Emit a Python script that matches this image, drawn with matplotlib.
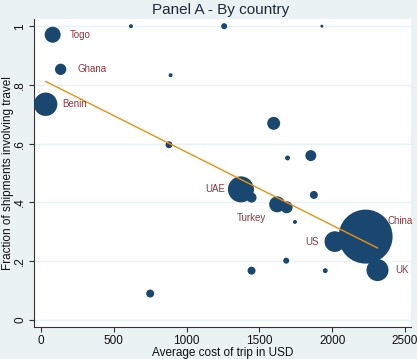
import matplotlib
matplotlib.use("Agg")
from matplotlib import pyplot as plt
import numpy as np

# average trip cost (USD), fraction of shipments involving travel, weight
cost = [80, 135, 32, 618, 890, 879, 1258, 1929, 1598, 1693, 1853, 750,
        1373, 1446, 1874, 1622, 1687, 1744, 2229, 2018, 2311, 1684, 1446, 1952]
frac = [0.971, 0.853, 0.734, 1.0, 0.833, 0.596, 1.0, 1.0, 0.669, 0.551, 0.559, 0.089,
        0.444, 0.416, 0.425, 0.393, 0.383, 0.333, 0.283, 0.266, 0.169, 0.201, 0.167, 0.167]
weight = [64, 32, 137, 4, 4, 12, 9, 2.25, 42, 6, 30, 16,
          169, 25, 16, 64, 36, 4, 729, 107, 121, 9, 16, 6]
country = ["Togo", "Ghana", "Benin", "", "", "", "", "", "", "", "", "",
           "UAE", "Turkey", "", "", "", "", "China", "US", "UK", "", "", ""]

fit_intercept = 0.8197
fit_slope = -0.000249

x_ticks = [0, 500, 1000, 1500, 2000, 2500]
y_ticks = [0, 0.2, 0.4, 0.6, 0.8, 1.0]
y_ticklabels = ["0", ".2", ".4", ".6", ".8", "1"]

# label offsets in points (dx, dy, ha, va)
label_pos = {
    "Togo": (12.5, 0, "left", "center"),
    "Ghana": (12, 0, "left", "center"),
    "Benin": (12, 0, "left", "center"),
    "UAE": (-11.5, 0, "right", "center"),
    "Turkey": (0, -14.5, "center", "center"),
    "China": (16, 11, "left", "center"),
    "US": (-11.5, 0, "right", "center"),
    "UK": (12.5, 0, "left", "center"),
}

plt.rcParams['font.family'] = ['Liberation Sans', 'DejaVu Sans']

bg = "#EAF2F3"
navy = "#1A476F"
label_col = "#90353B"

fig = plt.figure(figsize=[4.17, 3.59], dpi=100, facecolor=bg)
ax = fig.add_axes([34 / 417, 32 / 359, 377 / 417, 308 / 359])
ax.set_facecolor("white")

ax.set_xlim(-48, 2541)
ax.set_ylim(-0.025, 1.0245)

for yt in y_ticks:
    ax.axhline(yt, color=bg, lw=1.0, zorder=1)

sizes = [w * (0.72 * 2) ** 2 for w in weight]
ax.scatter(cost, frac, s=sizes, color=navy, edgecolors="none", zorder=3)

xs = np.array([min(cost), max(cost)])
ax.plot(xs, fit_intercept + fit_slope * xs, color="#F0900F", lw=1.0, zorder=4)

for c, x, y in zip(country, cost, frac):
    if c:
        dx, dy, ha, va = label_pos[c]
        ax.annotate(c, (x, y), xytext=(dx, dy), textcoords="offset points",
                    ha=ha, va=va, fontsize=7, color=label_col, zorder=5)

ax.set_xticks(x_ticks)
ax.set_yticks(y_ticks)
ax.set_yticklabels(y_ticklabels, rotation=90, va="center")
ax.tick_params(axis="both", labelsize=8.5, length=3.5, width=0.8,
               color="#333333", labelcolor="#111111", pad=2)

for side in ["top", "right"]:
    ax.spines[side].set_visible(False)
for side in ["left", "bottom"]:
    ax.spines[side].set_color("#333333")
    ax.spines[side].set_linewidth(0.8)

ax.set_xlabel("Average cost of trip in USD", fontsize=8.5, labelpad=0, color="#111111")
ax.set_ylabel("Fraction of shipments involving travel", fontsize=8.5, labelpad=0.5,
              color="#111111")
fig.text(0.53, 0.972, "Panel A - By country", ha="center", va="center",
         fontsize=11, color="#1e2a3a")

plt.savefig("out.png", dpi=100, facecolor=bg)
